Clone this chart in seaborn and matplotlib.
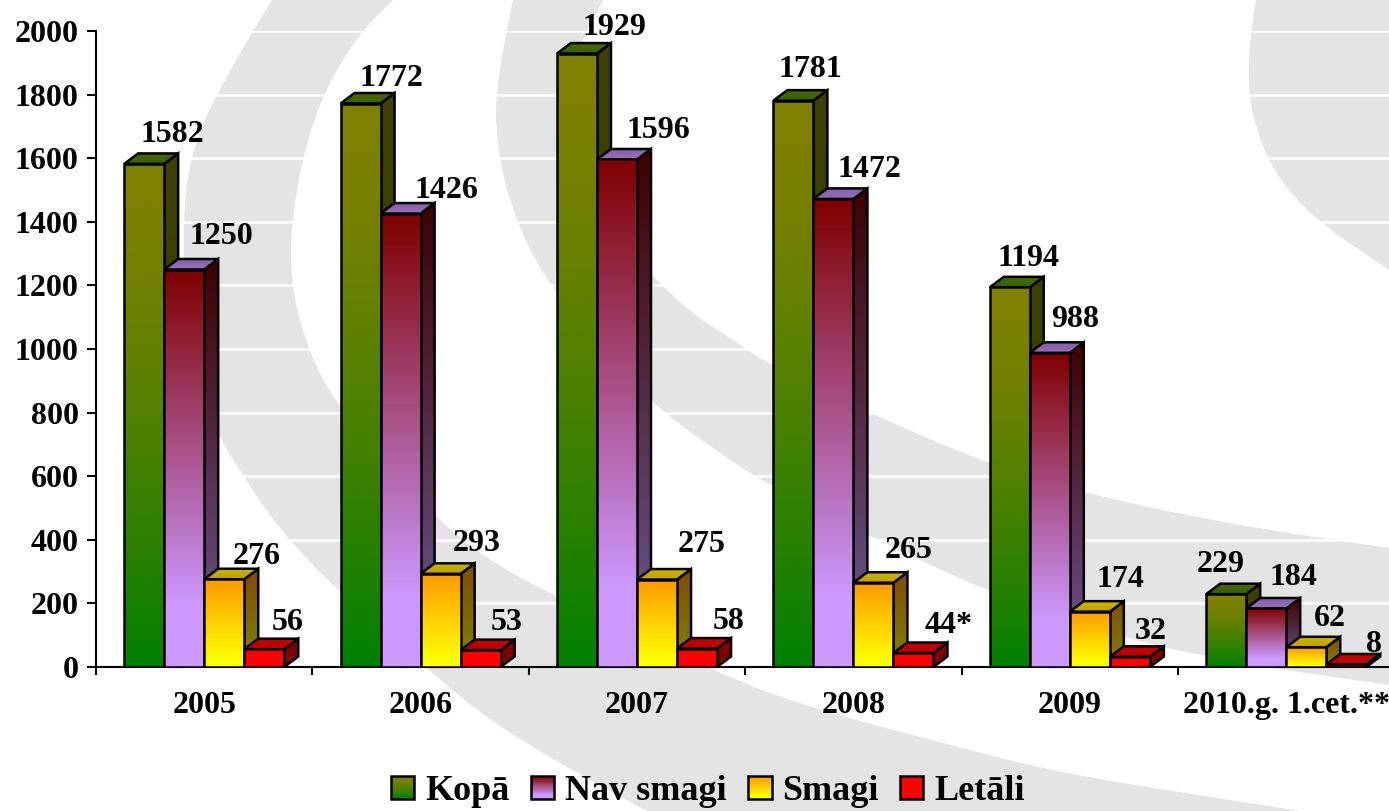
import numpy as np
import pandas as pd
import matplotlib
matplotlib.use("Agg")
import matplotlib.pyplot as plt
import seaborn as sns
from matplotlib.path import Path
from matplotlib.patches import PathPatch, Polygon, Rectangle, Patch
from matplotlib.legend_handler import HandlerBase

# chart values
years = ["2005", "2006", "2007", "2008", "2009", "2010.g. 1.cet.**"]
series_names = ["Kopā", "Nav smagi", "Smagi", "Letāli"]
kopa = [1582, 1772, 1929, 1781, 1194, 229]
nav_smagi = [1250, 1426, 1596, 1472, 988, 184]
smagi = [276, 293, 275, 265, 174, 62]
letali = [56, 53, 58, 44, 32, 8]
letali_text = ["56", "53", "58", "44*", "32", "8"]
y_ticks = [0, 200, 400, 600, 800, 1000, 1200, 1400, 1600, 1800, 2000]

# where each value label sits relative to its bar top, in pixels
label_dx = [[28, 31, 37, 17, 19, -6],
            [37, 46, 41, 36, 25, 27],
            [32, 36, 45, 35, 31, 24],
            [23, 26, 32, 35, 21, 28]]
label_dy = [[29, 25, 26, 31, 29, 30],
            [33, 23, 29, 29, 33, 31],
            [23, 30, 35, 32, 32, 29],
            [27, 28, 27, 28, 25, 20]]

# colours per series: front top/bottom, side top/bottom, roof back/front
front_colors = [((128, 128, 0), (0, 128, 0)),
                ((128, 0, 0), (204, 153, 255)),
                ((255, 153, 0), (255, 255, 0)),
                ((255, 0, 0), (255, 0, 0))]
side_colors = [((64, 64, 0), (0, 64, 0)),
               ((64, 0, 0), (102, 76, 128)),
               ((128, 76, 0), (128, 128, 0)),
               ((128, 0, 0), (128, 0, 0))]
roof_colors = [((82, 100, 0), (45, 100, 0)),
               ((130, 95, 170), (155, 110, 185)),
               ((205, 180, 0), (190, 160, 0)),
               ((192, 0, 0), (192, 0, 0))]
# gradient runs out at this share of the height, with this curve
grad_end = [1.0, 0.85, 0.92, 1.0]
grad_power = [1.5, 1.0, 1.0, 1.0]

# background swooshes, outlines in image pixels
band1_outer = [(272, 0), (221, 83), (192, 150), (183, 210), (185, 300), (198, 385), (217, 432),
               (237, 467), (281, 532), (339, 592), (431, 672), (491, 722), (580, 775), (647, 811)]
band1_inner = [(393, 0), (353, 40), (312, 117), (292, 213), (290, 277), (304, 340), (335, 405),
               (435, 518), (491, 562), (553, 595), (716, 672), (800, 705), (957, 747), (1060, 773),
               (1210, 797), (1300, 811)]
band2_outer = [(513, 0), (495, 83), (497, 150), (513, 213), (543, 277), (600, 345), (652, 405),
               (740, 467), (773, 487), (867, 535), (990, 593), (1127, 640), (1250, 665), (1389, 685)]
band2_inner = [(603, 0), (580, 43), (565, 100), (570, 170), (600, 230), (650, 273), (687, 310),
               (733, 340), (773, 367), (867, 412), (990, 465), (1083, 493), (1247, 528), (1389, 548)]
corner_edge = [(1256, 0), (1244, 67), (1260, 150), (1305, 213), (1389, 270)]


def rgb(c):
    return tuple(v / 255 for v in c)


def ramp(colors, n, end=1.0, power=1.0):
    top, bottom = np.array(rgb(colors[0])), np.array(rgb(colors[1]))
    t = np.minimum(np.linspace(0, 1, n) / end, 1) ** power
    return top + (bottom - top) * t[:, None]


def smooth_edge(points):
    # quadratic curve through the midpoints, so the outline has no corners
    verts = [points[0]]
    codes = [Path.LINETO]
    for i in range(1, len(points) - 1):
        mid = ((points[i][0] + points[i + 1][0]) / 2, (points[i][1] + points[i + 1][1]) / 2)
        verts += [points[i], mid]
        codes += [Path.CURVE3, Path.CURVE3]
    verts.append(points[-1])
    codes.append(Path.LINETO)
    return verts, codes


def add_band(ax, first, second):
    v1, c1 = smooth_edge(first)
    v2, c2 = smooth_edge(second[::-1])
    verts = v1 + v2 + [first[0]]
    codes = c1 + c2 + [Path.CLOSEPOLY]
    codes[0] = Path.MOVETO
    ax.add_patch(PathPatch(Path(verts, codes), facecolor="#e4e4e4", edgecolor="none"))


def paint(ax, shape, colors, x0, x1, y0, y1, z, end=1.0, power=1.0):
    # vertical gradient clipped to a patch
    grad = ramp(colors, 128, end, power).reshape(128, 1, 3)
    im = ax.imshow(grad, extent=(x0, x1, y0, y1), aspect="auto", interpolation="bilinear", zorder=z)
    im.set_clip_path(shape)


class GradientHandler(HandlerBase):
    def __init__(self, colors, end, power):
        super().__init__()
        self.colors = colors
        self.end = end
        self.power = power

    def create_artists(self, legend, orig_handle, xdescent, ydescent, width, height, fontsize, trans):
        steps = 20
        shades = ramp(self.colors, steps, self.end, self.power)
        artists = []
        for i in range(steps):
            artists.append(Rectangle((-xdescent, -ydescent + height * (1 - (i + 1) / steps)), width,
                                     height / steps + 0.3, facecolor=shades[i], edgecolor="none", transform=trans))
        artists.append(Rectangle((-xdescent, -ydescent), width, height, facecolor="none",
                                 edgecolor="black", linewidth=1.8, transform=trans))
        return artists


sns.set_theme(style="white")
plt.rcParams["font.family"] = ["Liberation Serif", "DejaVu Serif"]
plt.rcParams["font.weight"] = "bold"

fig = plt.figure(figsize=(13.89, 8.11), dpi=100, facecolor="white")

# background layer
bg = fig.add_axes([0, 0, 1, 1], zorder=0)
bg.set_xlim(0, 1389)
bg.set_ylim(811, 0)
bg.axis("off")
add_band(bg, band1_outer, band1_inner)
add_band(bg, band2_outer, band2_inner)
add_band(bg, corner_edge, [(1389, 0), (1389, 270)])

# chart layer
ax = fig.add_axes([96 / 1389, (811 - 667) / 811, (1389 - 96) / 1389, 636 / 811], zorder=1)
ax.patch.set_alpha(0)

df = pd.DataFrame({"year": years, "Kopā": kopa, "Nav smagi": nav_smagi, "Smagi": smagi, "Letāli": letali})
df = df.melt(id_vars="year", var_name="series", value_name="count")

sns.barplot(data=df, x="year", y="count", hue="series", order=years, hue_order=series_names,
            palette=[rgb(c[0]) for c in front_colors], width=0.74, gap=0, edgecolor="black",
            linewidth=1.8, legend=False, ax=ax)

ax.set_xlabel("")
ax.set_ylabel("")

# axes, ticks, white grid lines (limits last, set_xticks widens them)
sns.despine(ax=ax, top=True, right=True)
ax.spines["left"].set_linewidth(1.5)
ax.spines["bottom"].set_linewidth(1.5)
ax.spines["left"].set_color("black")
ax.spines["bottom"].set_color("black")
ax.set_axisbelow(True)
ax.yaxis.grid(True, color="white", linewidth=1.8)
ax.xaxis.grid(False)

ax.set_yticks(y_ticks)
ax.tick_params(axis="y", left=True, length=6.5, width=1.5, color="black", pad=6, labelsize=23)
ax.set_xticks(np.arange(7) - 0.5, minor=True)
ax.tick_params(axis="x", which="minor", bottom=True, length=6, width=1.5, color="black")
ax.tick_params(axis="x", which="major", bottom=False, length=0, pad=17.5, labelsize=23)
for label in ax.get_xticklabels() + ax.get_yticklabels():
    label.set_fontweight("bold")
    label.set_color("black")

ax.set_xlim(-0.5, 5.475)
ax.set_ylim(0, 2000)

# bar depth: 14 px sideways, 10.5 px up
depth_x = 14 / 216.4
depth_y = 10.5 / 0.318

for s, bars in enumerate(ax.containers):
    z = 3 + s
    for b, bar in enumerate(bars):
        x0 = bar.get_x()
        x1 = x0 + bar.get_width()
        h = bar.get_height()

        side = Polygon([(x1, 0), (x1 + depth_x, depth_y), (x1 + depth_x, h + depth_y), (x1, h)],
                       facecolor="none", edgecolor="black", linewidth=1.8, joinstyle="miter", zorder=z + 0.1)
        ax.add_patch(side)
        paint(ax, side, side_colors[s], x1, x1 + depth_x, 0, h + depth_y, z, grad_end[s], grad_power[s])

        roof = Polygon([(x0, h), (x0 + depth_x, h + depth_y), (x1 + depth_x, h + depth_y), (x1, h)],
                       facecolor="none", edgecolor="black", linewidth=1.8, joinstyle="miter", zorder=z + 0.3)
        ax.add_patch(roof)
        paint(ax, roof, roof_colors[s], x0, x1 + depth_x, h, h + depth_y, z + 0.2)

        paint(ax, bar, front_colors[s], x0, x1, 0, h, z + 0.4, grad_end[s], grad_power[s])
        bar.set_facecolor("none")
        bar.set_zorder(z + 0.5)

        text = letali_text[b] if s == 3 else str(int(h))
        ax.annotate(text, xy=(x0 + bar.get_width() / 2, h), xytext=(label_dx[s][b], label_dy[s][b]),
                    textcoords="offset pixels", ha="center", va="center", fontsize=23,
                    fontweight="bold", color="black", zorder=20)

# legend with gradient swatches
handles = [Patch(label=name) for name in series_names]
handler_map = {h: GradientHandler(front_colors[i], grad_end[i], grad_power[i]) for i, h in enumerate(handles)}
fig.legend(handles=handles, handler_map=handler_map, ncols=4, frameon=False, loc="center",
           bbox_to_anchor=(708 / 1389, (811 - 792) / 811), prop={"size": 26, "weight": "bold"},
           handlelength=0.64, handleheight=0.61, handletextpad=0.3, columnspacing=0.6,
           labelcolor="black", borderpad=0, borderaxespad=0)

fig.savefig("out.png", dpi=100)
plt.close()
